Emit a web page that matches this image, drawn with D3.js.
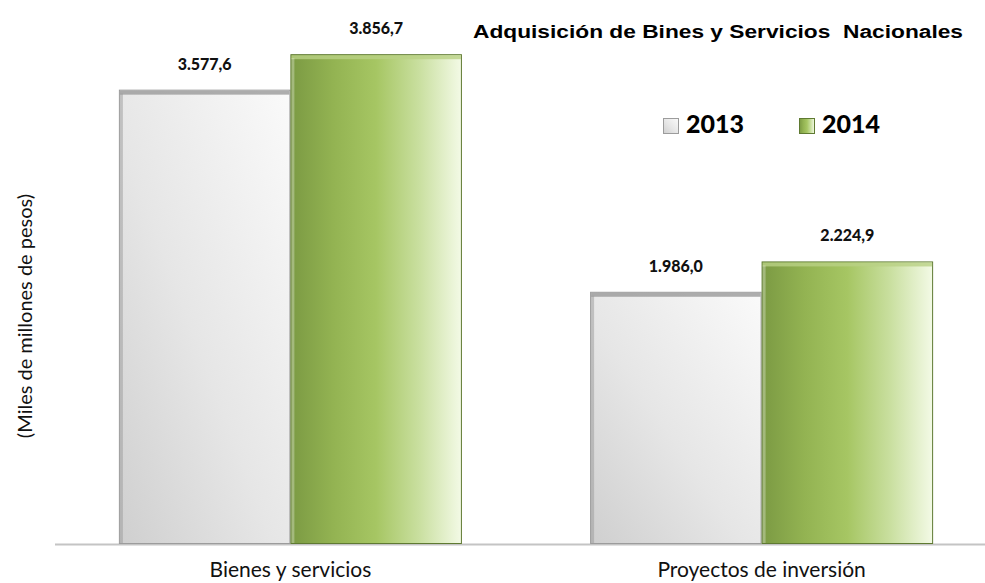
<!DOCTYPE html>
<html>
<head>
<meta charset="utf-8">
<script src="https://cdn.jsdelivr.net/npm/d3@7"></script>
<style>
  html, body { margin: 0; padding: 0; background: #fff; }
  svg { display: block; }
</style>
</head>
<body>
<svg id="chart" width="985" height="583"></svg>
<script>
// data
const categories = ["Bienes y servicios", "Proyectos de inversión"];
const years = ["2013", "2014"];
const values2013 = [3577.6, 1986.0];
const values2014 = [3856.7, 2224.9];
const valueLabels2013 = ["3.577,6", "1.986,0"];
const valueLabels2014 = ["3.856,7", "2.224,9"];

const svg = d3.select("#chart"),
  width = 985,
  height = 583;

const plot = { left: 55, right: 985, top: 36, bottom: 544 };

const x0 = d3.scaleBand()
  .domain(categories)
  .range([68, 984])
  .paddingInner(0.272)
  .paddingOuter(0.108);

const x1 = d3.scaleBand()
  .domain(years)
  .range([0, x0.bandwidth()]);

const y = d3.scaleLinear()
  .domain([0, 4000])
  .range([plot.bottom, plot.top]);

const rows = categories.map((c, i) => ({
  cat: c,
  bars: [
    { year: "2013", value: values2013[i], label: valueLabels2013[i] },
    { year: "2014", value: values2014[i], label: valueLabels2014[i] }
  ]
}));

// gradients
const defs = svg.append("defs");
const green = defs.append("linearGradient").attr("id", "g2014")
  .attr("x1", "0").attr("x2", "1").attr("y1", "0").attr("y2", "0");
[["0%", "#7b9a43"], ["25%", "#93b352"], ["50%", "#a6c663"], ["75%", "#c9df9f"], ["100%", "#f3fae6"]]
  .forEach(([o, c]) => green.append("stop").attr("offset", o).attr("stop-color", c));

const grey = defs.append("linearGradient").attr("id", "g2013")
  .attr("x1", "0").attr("x2", "1").attr("y1", "1").attr("y2", "0");
[["0%", "#cfcfcf"], ["45%", "#e6e6e6"], ["100%", "#fafafa"]]
  .forEach(([o, c]) => grey.append("stop").attr("offset", o).attr("stop-color", c));

const fills = { "2013": "url(#g2013)", "2014": "url(#g2014)" };
const strokes = { "2013": "#9c9c9c", "2014": "#5f7a32" };
const topEdge = { "2013": "#9a9a9a", "2014": "#b9d184" };

// axis line
svg.append("line")
  .attr("x1", plot.left).attr("x2", plot.right)
  .attr("y1", plot.bottom + 0.5).attr("y2", plot.bottom + 0.5)
  .attr("stroke", "#c4c4c4").attr("stroke-width", 2);

const groups = svg.append("g").selectAll("g")
  .data(rows)
  .join("g")
  .attr("transform", d => `translate(${x0(d.cat)},0)`);

const bar = groups.selectAll("g.bar")
  .data(d => d.bars)
  .join("g").attr("class", "bar");

bar.append("rect")
  .attr("x", d => x1(d.year) + 0.5)
  .attr("y", d => y(d.value) + 0.5)
  .attr("width", x1.bandwidth() - 1)
  .attr("height", d => plot.bottom - y(d.value) - 1)
  .attr("fill", d => fills[d.year])
  .attr("stroke", d => strokes[d.year])
  .attr("stroke-width", 1);

// bevel top edge
bar.append("rect")
  .attr("x", d => x1(d.year) + 1)
  .attr("y", d => y(d.value) + 1)
  .attr("width", x1.bandwidth() - 2)
  .attr("height", 4)
  .attr("fill", d => topEdge[d.year])
  .attr("opacity", 0.8);

// bevel left edge
bar.append("rect")
  .attr("x", d => x1(d.year) + 1)
  .attr("y", d => y(d.value) + 4)
  .attr("width", 3)
  .attr("height", d => plot.bottom - y(d.value) - 5)
  .attr("fill", d => d.year === "2013" ? "#9a9a9a" : "#ffffff")
  .attr("opacity", d => d.year === "2013" ? 0.5 : 0.3);

bar.append("text")
  .attr("x", d => x1(d.year) + x1.bandwidth() / 2)
  .attr("y", d => y(d.value) - 20)
  .attr("text-anchor", "middle")
  .attr("font-family", "Lato, 'Open Sans', sans-serif")
  .attr("font-weight", "900")
  .attr("font-size", 16)
  .attr("fill", "#111")
  .text(d => d.label);

// category labels
svg.append("g").selectAll("text")
  .data(categories)
  .join("text")
  .attr("x", d => x0(d) + x0.bandwidth() / 2)
  .attr("y", 577)
  .attr("text-anchor", "middle")
  .attr("font-family", "Lato, 'Open Sans', sans-serif")
  .attr("font-size", 21)
  .attr("fill", "#111")
  .text(d => d);

// y axis title
svg.append("text")
  .attr("transform", "translate(32,316) rotate(-90)")
  .attr("text-anchor", "middle")
  .attr("font-family", "Lato, 'Open Sans', sans-serif")
  .attr("font-size", 20)
  .attr("fill", "#111")
  .text("(Miles de millones de pesos)");

// title
svg.append("text")
  .attr("x", 473).attr("y", 38)
  .attr("font-family", "'Liberation Sans', Arial, sans-serif")
  .attr("font-weight", "bold")
  .attr("font-size", 18)
  .attr("textLength", 490)
  .attr("lengthAdjust", "spacingAndGlyphs")
  .attr("fill", "#000")
  .style("white-space", "pre")
  .text("Adquisición de Bines y Servicios  Nacionales");

// legend
const legendX = [663, 799];
const legend = svg.append("g").selectAll("g")
  .data(years)
  .join("g")
  .attr("transform", (d, i) => `translate(${legendX[i]},118)`);

legend.append("rect")
  .attr("x", 0.5).attr("y", 0.5)
  .attr("width", 15).attr("height", 15)
  .attr("fill", d => fills[d])
  .attr("stroke", d => strokes[d]);

legend.append("text")
  .attr("x", 23).attr("y", 15)
  .attr("font-family", "Lato, 'Open Sans', sans-serif")
  .attr("font-weight", "900")
  .attr("font-size", 25)
  .attr("fill", "#000")
  .text(d => d);
</script>
</body>
</html>
